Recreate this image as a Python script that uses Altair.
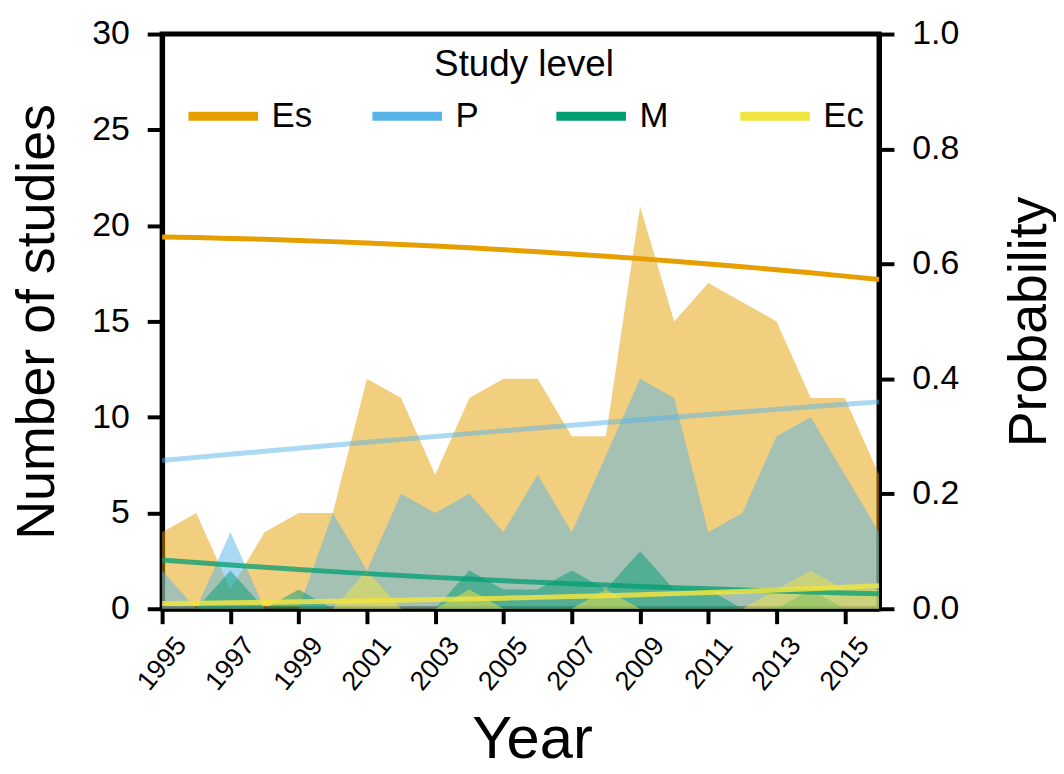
import altair as alt
import pandas as pd

years = list(range(1995, 2017))
series = ["Es", "P", "M", "Ec"]
colors = ["#E69F00", "#56B4E9", "#009E73", "#F0E442"]

# Number of studies per year (areas, left axis)
es_count = [4, 5, 1, 4, 5, 5, 12, 11, 7, 11, 12, 12, 9, 9, 21, 15, 17, 16, 15, 11, 11, 7]
p_count = [2, 0, 4, 0, 0, 5, 2, 6, 5, 6, 4, 7, 4, 8, 12, 11, 4, 5, 9, 10, 7, 4]
m_count = [0, 0, 2, 0, 1, 0, 0, 0, 0, 2, 1, 1, 2, 1, 3, 1, 1, 0, 0, 1, 0, 0]
ec_count = [0, 0, 0, 0, 0, 0, 2, 0, 0, 1, 0, 0, 0, 1, 0, 0, 0, 0, 1, 2, 1, 1]

# Fitted probability per year (lines, right axis)
es_prob = [0.647, 0.6458, 0.6444, 0.6428, 0.6409, 0.6388, 0.6365, 0.6339, 0.6311, 0.6280, 0.6247,
           0.6212, 0.6174, 0.6134, 0.6092, 0.6047, 0.6000, 0.5951, 0.5899, 0.5845, 0.5788, 0.5729]
p_prob = [0.258, 0.2634, 0.2688, 0.2741, 0.2793, 0.2845, 0.2896, 0.2947, 0.2997, 0.3047, 0.3096,
          0.3144, 0.3192, 0.3240, 0.3287, 0.3333, 0.3379, 0.3424, 0.3469, 0.3514, 0.3557, 0.3600]
m_prob = [0.0850, 0.0805, 0.0762, 0.0721, 0.0683, 0.0646, 0.0611, 0.0578, 0.0546, 0.0516, 0.0488,
          0.0461, 0.0436, 0.0412, 0.0389, 0.0367, 0.0347, 0.0327, 0.0309, 0.0292, 0.0275, 0.0260]
ec_prob = [0.0090, 0.0097, 0.0104, 0.0112, 0.0120, 0.0129, 0.0138, 0.0149, 0.0160, 0.0172, 0.0184,
           0.0198, 0.0212, 0.0228, 0.0245, 0.0263, 0.0282, 0.0302, 0.0325, 0.0348, 0.0373, 0.0400]

line_opacity = [1.0, 0.5, 0.75, 0.85]

counts = [es_count, p_count, m_count, ec_count]
probs = [es_prob, p_prob, m_prob, ec_prob]

area_rows = []
line_rows = []
for s, cnt, pr, op in zip(series, counts, probs, line_opacity):
    for y, c, v in zip(years, cnt, pr):
        area_rows.append({"year": y, "series": s, "count": c})
        line_rows.append({"year": y, "series": s, "prob": v, "op": op})
area_df = pd.DataFrame(area_rows)
line_df = pd.DataFrame(line_rows)

FONT = "Liberation Sans"

x_enc = alt.X(
    "year:Q",
    scale=alt.Scale(domain=[1995, 2016], nice=False, zero=False),
    axis=alt.Axis(
        values=list(range(1995, 2016, 2)), format="d", title="Year",
        labelAngle=310, labelAlign="right", labelBaseline="middle", labelFlush=False,
        labelFontSize=27, labelPadding=17, labelOffset=19, tickSize=15,
        titleFontSize=60, titleX=372, titleY=150, titleBaseline="alphabetic",
        titleAlign="center", titleAnchor="start",
    ),
)

left_axis = alt.Axis(
    values=[0, 5, 10, 15, 20, 25, 30], title="Number of studies",
    labelFontSize=34, labelPadding=18, tickSize=15,
    titleFontSize=54, titleAngle=270, titleX=-125, titleY=289,
    titleBaseline="middle", titleAlign="center", titleAnchor="start",
)

areas = []
for s, col in zip(series, colors):
    areas.append(
        alt.Chart(area_df)
        .transform_filter(alt.datum.series == s)
        .mark_area(color=col, opacity=0.5, interpolate="linear")
        .encode(
            x=x_enc,
            y=alt.Y("count:Q", scale=alt.Scale(domain=[0, 30], nice=False), axis=left_axis, stack=None),
        )
    )
area_layer = alt.layer(*areas)

lines = (
    alt.Chart(line_df)
    .mark_line(strokeWidth=5, interpolate="linear")
    .encode(
        x=x_enc,
        y=alt.Y(
            "prob:Q",
            scale=alt.Scale(domain=[0, 1], nice=False),
            axis=alt.Axis(
                orient="right", values=[0, 0.2, 0.4, 0.6, 0.8, 1.0], format=".1f",
                title="Probability", labelFontSize=34, labelPadding=18, tickSize=15,
                titleFontSize=54, titleAngle=270, titleX=151, titleY=289,
                titleBaseline="middle", titleAlign="center", titleAnchor="start",
            ),
        ),
        color=alt.Color(
            "series:N",
            scale=alt.Scale(domain=series, range=colors),
            legend=alt.Legend(
                title="Study level", orient="none", legendX=22, legendY=13,
                direction="horizontal", columns=4, gridAlign="all",
                symbolType="stroke", symbolSize=4900, symbolStrokeWidth=9,
                symbolOpacity=1, labelFontSize=35, titleFontSize=37, titleLimit=500,
                titleFontWeight="normal", titleAnchor="middle", titlePadding=-7,
                labelOffset=9, columnPadding=42, padding=0,
                labelFont=FONT, titleFont=FONT, labelColor="black", titleColor="black",
            ),
            sort=series,
        ),
        opacity=alt.Opacity("op:Q", scale=None),
        detail="series:N",
    )
)

chart = (
    alt.layer(area_layer, lines)
    .resolve_scale(y="independent")
    .properties(
        width=721, height=578,
        autosize=alt.AutoSizeParams(type="none"),
        padding={"left": 155, "top": 24, "right": 178, "bottom": 164},
    )
    .configure_view(stroke="black", strokeWidth=5)
    .configure_axis(
        domainColor="black", domainWidth=5, tickColor="black", tickWidth=4,
        labelColor="black", titleColor="black", labelFont=FONT, titleFont=FONT,
        titleFontWeight="normal", grid=False, zindex=1,
    )
)

chart.save("out.html", embed_options={"renderer": "svg", "actions": False})
